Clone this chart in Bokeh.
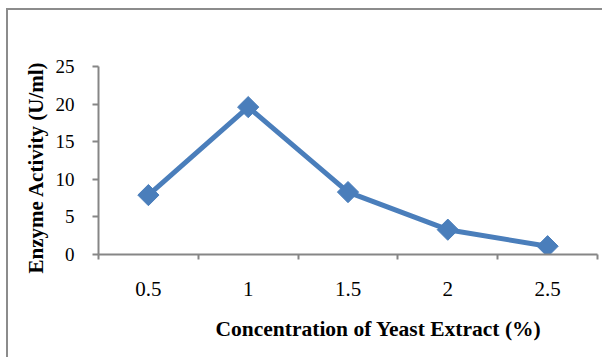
from bokeh.plotting import figure
from bokeh.models import FixedTicker, Range1d, Title, ColumnDataSource
from bokeh.embed import file_html
from bokeh.resources import INLINE
import math

# Yeast extract concentrations (%) and measured enzyme activity (U/ml)
concentrations = ["0.5", "1", "1.5", "2", "2.5"]
activity = [7.9, 19.6, 8.3, 3.3, 1.1]
y_ticks = [0, 5, 10, 15, 20, 25]

positions = list(range(1, len(concentrations) + 1))
src = ColumnDataSource(dict(x=positions, y=activity))

AXIS_GREY = "#868686"
BLUE = "#4a7ebb"
SERIF = "Liberation Serif"

p = figure(width=596, height=349, output_backend="svg", toolbar_location=None,
           x_range=Range1d(0.5, len(concentrations) + 0.5), y_range=Range1d(0, 25),
           min_border_left=90, min_border_right=7, min_border_top=56, min_border_bottom=105)
p.outline_line_color = None
p.grid.grid_line_color = None
p.background_fill_color = "white"
p.border_fill_color = "white"
# chart area border (top and left edges)
p.styles = {"border-top": "2px solid #8c8c8c", "border-left": "2px solid #8c8c8c",
            "margin-left": "6px", "margin-top": "8px"}

# x axis: ticks sit between categories, labels at the category centres
xa = p.xaxis[0]
xa.ticker = FixedTicker(ticks=positions,
                        minor_ticks=[i + 0.5 for i in range(0, len(concentrations) + 1)])
xa.major_label_overrides = {pos: lab for pos, lab in zip(positions, concentrations)}
xa.major_tick_line_color = None
xa.major_tick_in = 0
xa.major_tick_out = 0
xa.minor_tick_line_color = AXIS_GREY
xa.minor_tick_line_width = 2
xa.minor_tick_in = 0
xa.minor_tick_out = 5
xa.axis_line_color = AXIS_GREY
xa.axis_line_width = 2
xa.major_label_text_font = SERIF
xa.major_label_text_font_size = "21px"
xa.major_label_text_color = "black"
xa.major_label_standoff = 22

ya = p.yaxis[0]
ya.ticker = FixedTicker(ticks=y_ticks, minor_ticks=[])
ya.major_tick_line_color = AXIS_GREY
ya.major_tick_line_width = 2
ya.major_tick_in = 0
ya.major_tick_out = 6
ya.axis_line_color = AXIS_GREY
ya.axis_line_width = 2
ya.major_label_text_font = SERIF
ya.major_label_text_font_size = "19px"
ya.major_label_text_color = "black"
ya.major_label_standoff = 18

# series line with diamond markers
p.line("x", "y", source=src, line_color=BLUE, line_width=5)
p.scatter("x", "y", source=src, marker="square", size=15, angle=math.pi / 4,
          fill_color=BLUE, line_color=BLUE)

# axis titles
p.add_layout(Title(text="Concentration of Yeast Extract (%)", align="left", offset=117,
                   text_font=SERIF, text_font_style="bold", text_font_size="21.5px",
                   text_color="black", standoff=33), "below")
p.add_layout(Title(text="Enzyme Activity (U/ml)", align="left", offset=-19,
                   text_font=SERIF, text_font_style="bold", text_font_size="21px",
                   text_color="black", standoff=9), "left")

open("out.html", "w").write(file_html(p, INLINE))
